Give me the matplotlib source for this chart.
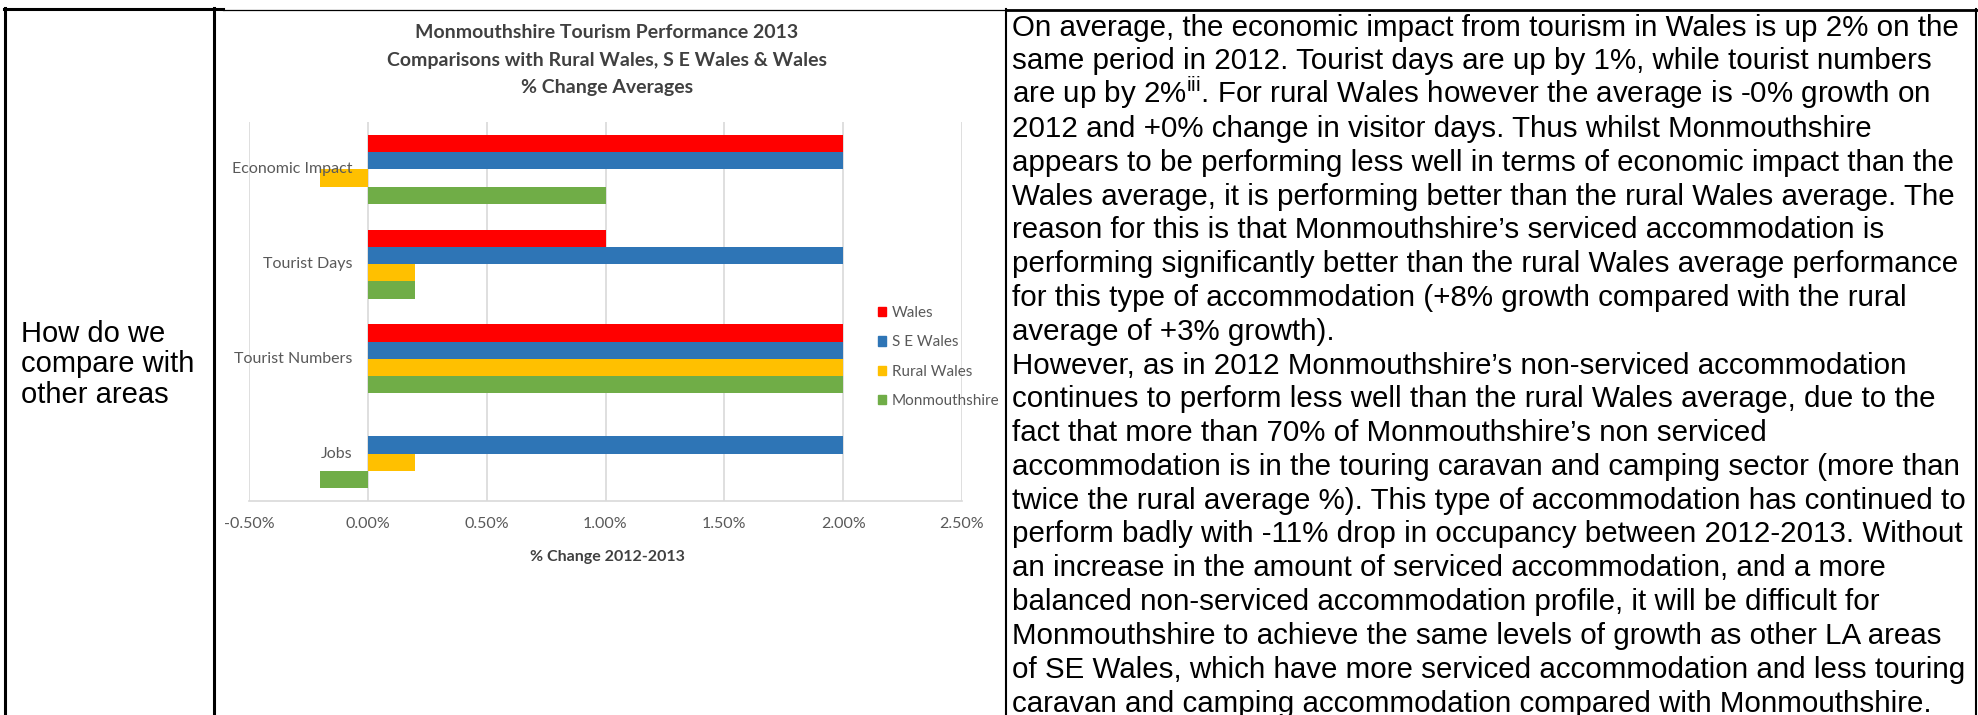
import matplotlib
matplotlib.use("Agg")
import matplotlib.pyplot as plt
import matplotlib.transforms as mtransforms
from matplotlib.patches import Patch
from matplotlib.lines import Line2D

# data (% change 2012-2013)
categories = ["Economic Impact", "Tourist Days", "Tourist Numbers", "Jobs"]
series_names = ["Wales", "S E Wales", "Rural Wales", "Monmouthshire"]
wales = [2.0, 1.0, 2.0, 0.0]
se_wales = [2.0, 2.0, 2.0, 2.0]
rural_wales = [-0.2, 0.2, 2.0, 0.2]
monmouthshire = [1.0, 0.2, 2.0, -0.2]
x_ticks = [-0.5, 0.0, 0.5, 1.0, 1.5, 2.0, 2.5]
colors = ["#ff0000", "#2e75b6", "#ffc000", "#70ad47"]

title_lines = ["Monmouthshire Tourism Performance 2013",
               "Comparisons with Rural Wales, S E Wales & Wales",
               "% Change Averages"]

left_text = ["How do we", "compare with", "other areas"]

right_text = [
    "On average, the economic impact from tourism in Wales is up 2% on the",
    "same period in 2012. Tourist days are up by 1%, while tourist numbers",
    r"are up by 2%$^{\rm iii}$. For rural Wales however the average is -0% growth on",
    "2012 and +0% change in visitor days. Thus whilst Monmouthshire",
    "appears to be performing less well in terms of economic impact than the",
    "Wales average, it is performing better than the rural Wales average. The",
    "reason for this is that Monmouthshire\u2019s serviced accommodation is",
    "performing significantly better than the rural Wales average performance",
    "for this type of accommodation (+8% growth compared with the rural",
    "average of +3% growth).",
    "However, as in 2012 Monmouthshire\u2019s non-serviced accommodation",
    "continues to perform less well than the rural Wales average, due to the",
    "fact that more than 70% of Monmouthshire\u2019s non serviced",
    "accommodation is in the touring caravan and camping sector (more than",
    "twice the rural average %). This type of accommodation has continued to",
    "perform badly with -11% drop in occupancy between 2012-2013. Without",
    "an increase in the amount of serviced accommodation, and a more",
    "balanced non-serviced accommodation profile, it will be difficult for",
    "Monmouthshire to achieve the same levels of growth as other LA areas",
    "of SE Wales, which have more serviced accommodation and less touring",
    "caravan and camping accommodation compared with Monmouthshire.",
]

plt.rcParams["mathtext.fontset"] = "custom"
plt.rcParams["mathtext.rm"] = "Liberation Sans"
plt.rcParams["mathtext.it"] = "Liberation Sans:italic"
plt.rcParams["mathtext.bf"] = "Liberation Sans:bold"

W, H = 1978, 715
fig = plt.figure(figsize=(W / 100, H / 100), dpi=100)


def fx(px):
    return px / W


def fy(py):
    return 1 - py / H


chart_font = "Lato"
grey = "#595959"

# --- chart ---
ax = fig.add_axes([fx(249), fy(501), fx(962) - fx(249), fy(122) - fy(501)])
bar_h = 0.1825
offsets = [-1.5 * bar_h, -0.5 * bar_h, 0.5 * bar_h, 1.5 * bar_h]
for k, vals in enumerate([wales, se_wales, rural_wales, monmouthshire]):
    ys = [i + offsets[k] for i in range(len(categories))]
    ax.barh(ys, vals, height=bar_h, color=colors[k], zorder=2)

ax.set_xlim(-0.5, 2.5)
ax.set_ylim(len(categories) - 0.5, -0.5)
ax.set_xticks(x_ticks)
ax.set_xticklabels([f"{v:.2f}%" for v in x_ticks], fontfamily=chart_font)
ax.set_yticks([])
ax.tick_params(axis="x", length=0, pad=11.5, labelsize=11.5, labelcolor=grey)
ax.grid(axis="x", color="#d9d9d9", lw=1.2, zorder=0)
ax.set_axisbelow(True)
for s in ["left", "top", "right"]:
    ax.spines[s].set_visible(False)
ax.spines["bottom"].set_color("#d9d9d9")
ax.spines["bottom"].set_linewidth(1.2)

lab_tr = mtransforms.offset_copy(ax.transData, fig=fig, x=-15, y=0, units="dots")
for i, cat in enumerate(categories):
    ax.text(0, i, cat, transform=lab_tr, ha="right", va="center", fontsize=11.5,
            color=grey, fontfamily=chart_font, zorder=5)

handles = [Patch(color=c) for c in colors]
fig.legend(handles, series_names, loc="center left", bbox_to_anchor=(fx(878), fy(357)),
           frameon=False, prop={"family": chart_font, "size": 11}, handlelength=0.55,
           handleheight=0.55, handletextpad=0.35, labelspacing=1.0, borderpad=0,
           borderaxespad=0, labelcolor=grey)

for j, line in enumerate(title_lines):
    fig.text(fx(607), fy(33 + 27.5 * j), line, ha="center", va="center", fontsize=14,
             fontweight="bold", color="#404040", fontfamily=chart_font)

fig.text(fx(607), fy(557), "% Change 2012-2013", ha="center", va="center", fontsize=11.5,
         fontweight="bold", color="#404040", fontfamily=chart_font)

# --- table text ---
for j, line in enumerate(left_text):
    fig.text(fx(21), fy(342 + 30.5 * j), line, ha="left", va="baseline", fontsize=21,
             color="black", fontfamily="Liberation Sans")

right_objs = []
for j, line in enumerate(right_text):
    t = fig.text(fx(1012), fy(35.5 + 33.8 * j), line, ha="left", va="baseline",
                 fontsize=21.5, color="black", fontfamily="Liberation Sans")
    right_objs.append(t)

# shrink the paragraph so its longest line fits the cell like in the reference
fig.canvas.draw()
rend = fig.canvas.get_renderer()
widest = max(t.get_window_extent(rend).width for t in right_objs)
for t in right_objs:
    t.set_fontsize(21.5 * 955 / widest)


# --- table borders ---
def hline(y, x0, x1, lw):
    fig.add_artist(Line2D([fx(x0), fx(x1)], [fy(y), fy(y)], color="black", lw=lw,
                          transform=fig.transFigure))


def vline(x, y0, y1, lw):
    fig.add_artist(Line2D([fx(x), fx(x)], [fy(y0), fy(y1)], color="black", lw=lw,
                          transform=fig.transFigure))


hline(8.5, 3.5, 223, 2.2)
hline(10, 223, 1006, 0.9)
hline(10, 1006, 1977, 2.0)
vline(5, 7.5, 716, 2.2)
vline(213.5, 7.5, 716, 2.2)
vline(1006, 9, 716, 1.5)
vline(1975.5, 9, 716, 1.5)

fig.savefig("out.png", dpi=100)
